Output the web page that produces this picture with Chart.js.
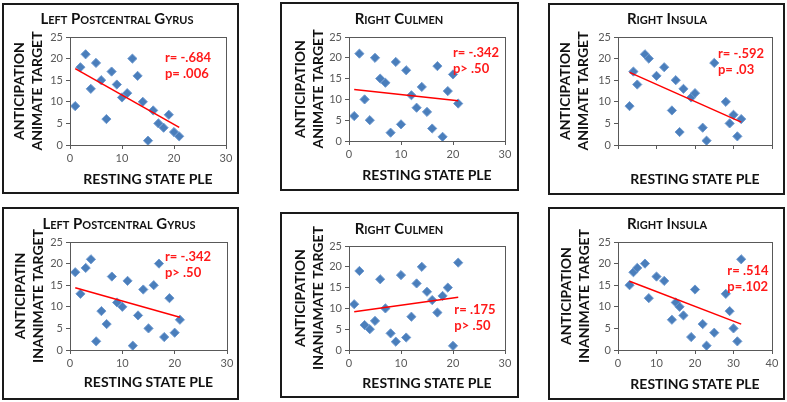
<!DOCTYPE html>
<html>
<head>
<meta charset="utf-8">
<script src="https://cdn.jsdelivr.net/npm/chart.js@4"></script>
<style>
  body { margin: 0; background: #fff; width: 787px; height: 402px; overflow: hidden; position: relative; font-family: Lato, "Open Sans", sans-serif; }
  canvas { position: absolute; }
  .frame { position: absolute; box-sizing: border-box; border: 2px solid #1a1a1a; }
  .ttl { position: absolute; transform: translate(-50%, -50%); white-space: nowrap; font-weight: bold; font-variant: small-caps; font-size: 15px; color: #111; }
  .stat { position: absolute; transform: translate(-50%, -50%); white-space: nowrap; font-weight: bold; font-size: 13px; line-height: 16px; color: #ff1a1a; text-align: left; }
</style>
</head>
<body>
<script>
// Resting state PLE vs anticipation ratings, six ROI scatter plots

// x values (resting state PLE)
const pleCortex = [1, 2, 3, 4, 5, 6, 7, 8, 9, 10, 11, 12, 13, 14, 15, 16, 17, 18, 19, 20, 21];
const pleInsula = [3, 4, 5, 7, 8, 10, 12, 14, 15, 16, 17, 19, 20, 22, 23, 25, 28, 29, 30, 31, 32];

// y values (anticipation)
const animLeftPG = [9, 18, 21, 13, 19, 15, 6, 17, 14, 11, 12, 20, 16, 10, 1, 8, 5, 4, 7, 3, 2];
const animCulmen = [6, 21, 10, 5, 20, 15, 14, 2, 19, 4, 17, 11, 8, 13, 7, 3, 18, 1, 12, 16, 9];
const animInsula = [9, 17, 14, 21, 20, 16, 18, 8, 15, 3, 13, 11, 12, 4, 1, 19, 10, 5, 7, 2, 6];
const inanLeftPG = [18, 13, 19, 21, 2, 9, 6, 17, 11, 10, 16, 1, 8, 14, 5, 15, 20, 3, 12, 4, 7];
const inanCulmen = [11, 19, 6, 5, 7, 17, 10, 4, 2, 18, 3, 8, 16, 20, 14, 12, 9, 13, 15, 1, 21];
const inanInsula = [15, 18, 19, 20, 12, 17, 16, 7, 11, 10, 8, 3, 14, 6, 1, 4, 13, 9, 5, 2, 21];

// fitted lines, endpoints: [x1, x2], [y1, y2]
const fitAnimLeftPG = [[1, 21], [17.7, 4.1]];
const fitAnimCulmen = [[1, 21], [12.4, 9.7]];
const fitAnimInsula = [[3, 32], [16.8, 5.3]];
const fitInanLeftPG = [[1, 21], [14.4, 7.6]];
const fitInanCulmen = [[1, 21], [9.2, 12.7]];
const fitInanInsula = [[3, 32], [15.9, 6.0]];

const titles = ["Left Postcentral Gyrus", "Right Culmen", "Right Insula",
                "Left Postcentral Gyrus", "Right Culmen", "Right Insula"];
const yTitles = [
  ["ANTICIPATION", "ANIMATE TARGET"],
  ["ANTICIPATION", "ANIMATE TARGET"],
  ["ANTICIPATION", "ANIMATE TARGET"],
  ["ANTICIPATIN", "INANIMATE TARGET"],
  ["ANTICIPATION", "INANIAMATE TARGET"],
  ["ANTICIPATION", "INANIMATE TARGET"],
];
const stats = [
  ["r= -.684", "p= .006"],
  ["r= -.342", "p> .50"],
  ["r= -.592", "p= .03"],
  ["r= -.342", "p> .50"],
  ["r= .175", "p> .50"],
  ["r= .514", "p=.102"],
];
const xMaxes = [30, 30, 40, 30, 30, 40];
const xLabelsShown = [true, true, false, true, true, true];

const panels = [
  { x: pleCortex, y: animLeftPG, fit: fitAnimLeftPG },
  { x: pleCortex, y: animCulmen, fit: fitAnimCulmen },
  { x: pleInsula, y: animInsula, fit: fitAnimInsula },
  { x: pleCortex, y: inanLeftPG, fit: fitInanLeftPG },
  { x: pleCortex, y: inanCulmen, fit: fitInanCulmen },
  { x: pleInsula, y: inanInsula, fit: fitInanInsula },
];

// page layout: outer box, plot area, title/stat centres, axis title offsets
const layout = [
  { box: [2, 3, 239, 194], plot: [70, 37, 226, 145], ttl: [117, 18], stat: [188, 65], yPad: 8, xPad: 6.6 },
  { box: [280, 2, 519, 191], plot: [349, 37, 505, 141], ttl: [399, 18], stat: [476, 60], yPad: 11, xPad: 7.6 },
  { box: [548, 3, 785, 195], plot: [618, 37, 772, 145], ttl: [667, 18], stat: [741, 61], yPad: 8.6, xPad: 7.3 },
  { box: [2, 207, 239, 400], plot: [70, 242, 227, 350], ttl: [119, 223], stat: [188, 264], yPad: 9.2, xPad: 8.9 },
  { box: [280, 212, 519, 398], plot: [349, 246, 505, 350], ttl: [399, 228], stat: [475, 317], yPad: 11, xPad: 6.6 },
  { box: [548, 207, 785, 400], plot: [618, 242, 772, 350], ttl: [667, 223], stat: [748, 278], yPad: 9.6, xPad: 7.6 },
];

const plotFrame = {
  id: "plotFrame",
  afterDraw(chart) {
    const { ctx, chartArea: a } = chart;
    ctx.save();
    ctx.strokeStyle = "#595959";
    ctx.lineWidth = 1;
    ctx.strokeRect(Math.round(a.left) + 0.5, Math.round(a.top) + 0.5,
      Math.round(a.right - a.left), Math.round(a.bottom - a.top));
    ctx.restore();
  },
};

function addText(cls, html, cx, cy) {
  const d = document.createElement("div");
  d.className = cls;
  d.innerHTML = html;
  d.style.left = cx + "px";
  d.style.top = cy + "px";
  document.body.appendChild(d);
}

panels.forEach((p, i) => {
  const L = layout[i];
  const [bl, bt, br, bb] = L.box;
  const [pl, pt, pr, pb] = L.plot;
  const w = br - bl, h = bb - bt;

  const canvas = document.createElement("canvas");
  canvas.width = w;
  canvas.height = h;
  canvas.style.left = bl + "px";
  canvas.style.top = bt + "px";
  canvas.style.width = w + "px";
  canvas.style.height = h + "px";
  document.body.appendChild(canvas);

  const frame = document.createElement("div");
  frame.className = "frame";
  Object.assign(frame.style, { left: bl + "px", top: bt + "px", width: w + "px", height: h + "px" });
  document.body.appendChild(frame);

  addText("ttl", titles[i], L.ttl[0], L.ttl[1]);
  addText("stat", stats[i].join("<br>"), L.stat[0], L.stat[1]);

  const points = p.x.map((x, k) => ({ x, y: p.y[k] }));
  const line = p.fit[0].map((x, k) => ({ x, y: p.fit[1][k] }));

  new Chart(canvas, {
    type: "scatter",
    data: {
      datasets: [
        {
          type: "line",
          data: line,
          borderColor: "#ff0000",
          borderWidth: 1.5,
          pointRadius: 0,
          fill: false,
        },
        {
          data: points,
          pointStyle: "rectRot",
          pointRadius: 4.6,
          backgroundColor: "#4a7ebb",
          borderColor: "#6f9ad0",
          borderWidth: 1,
        },
      ],
    },
    options: {
      responsive: false,
      animation: false,
      events: [],
      layout: { padding: { left: 0, top: pt - bt, right: br - pr, bottom: 0 } },
      plugins: { legend: { display: false }, tooltip: { enabled: false } },
      scales: {
        x: {
          type: "linear",
          min: 0,
          max: xMaxes[i],
          afterFit: (s) => { s.height = bb - pb; },
          border: { color: "#595959" },
          grid: { drawOnChartArea: false, tickLength: 4, color: "#595959" },
          ticks: { display: xLabelsShown[i], stepSize: 10, padding: 3, color: "#595959", font: { family: "Lato", size: 11 } },
          title: {
            display: true,
            text: "RESTING STATE PLE",
            color: "#111",
            font: { family: "Lato", size: 14, weight: "bold", lineHeight: 1.2 },
            padding: { top: 0, bottom: L.xPad },
          },
        },
        y: {
          min: 0,
          max: 25,
          afterFit: (s) => { s.width = pl - bl; },
          border: { color: "#595959" },
          grid: { drawOnChartArea: false, tickLength: 4, color: "#595959" },
          ticks: { stepSize: 5, padding: 3, color: "#595959", font: { family: "Lato", size: 11 } },
          title: {
            display: true,
            text: yTitles[i],
            color: "#111",
            font: { family: "Lato", size: 14, weight: "bold", lineHeight: 1.3 },
            padding: { top: L.yPad, bottom: 0 },
          },
        },
      },
    },
    plugins: [plotFrame],
  });
});
</script>
</body>
</html>
